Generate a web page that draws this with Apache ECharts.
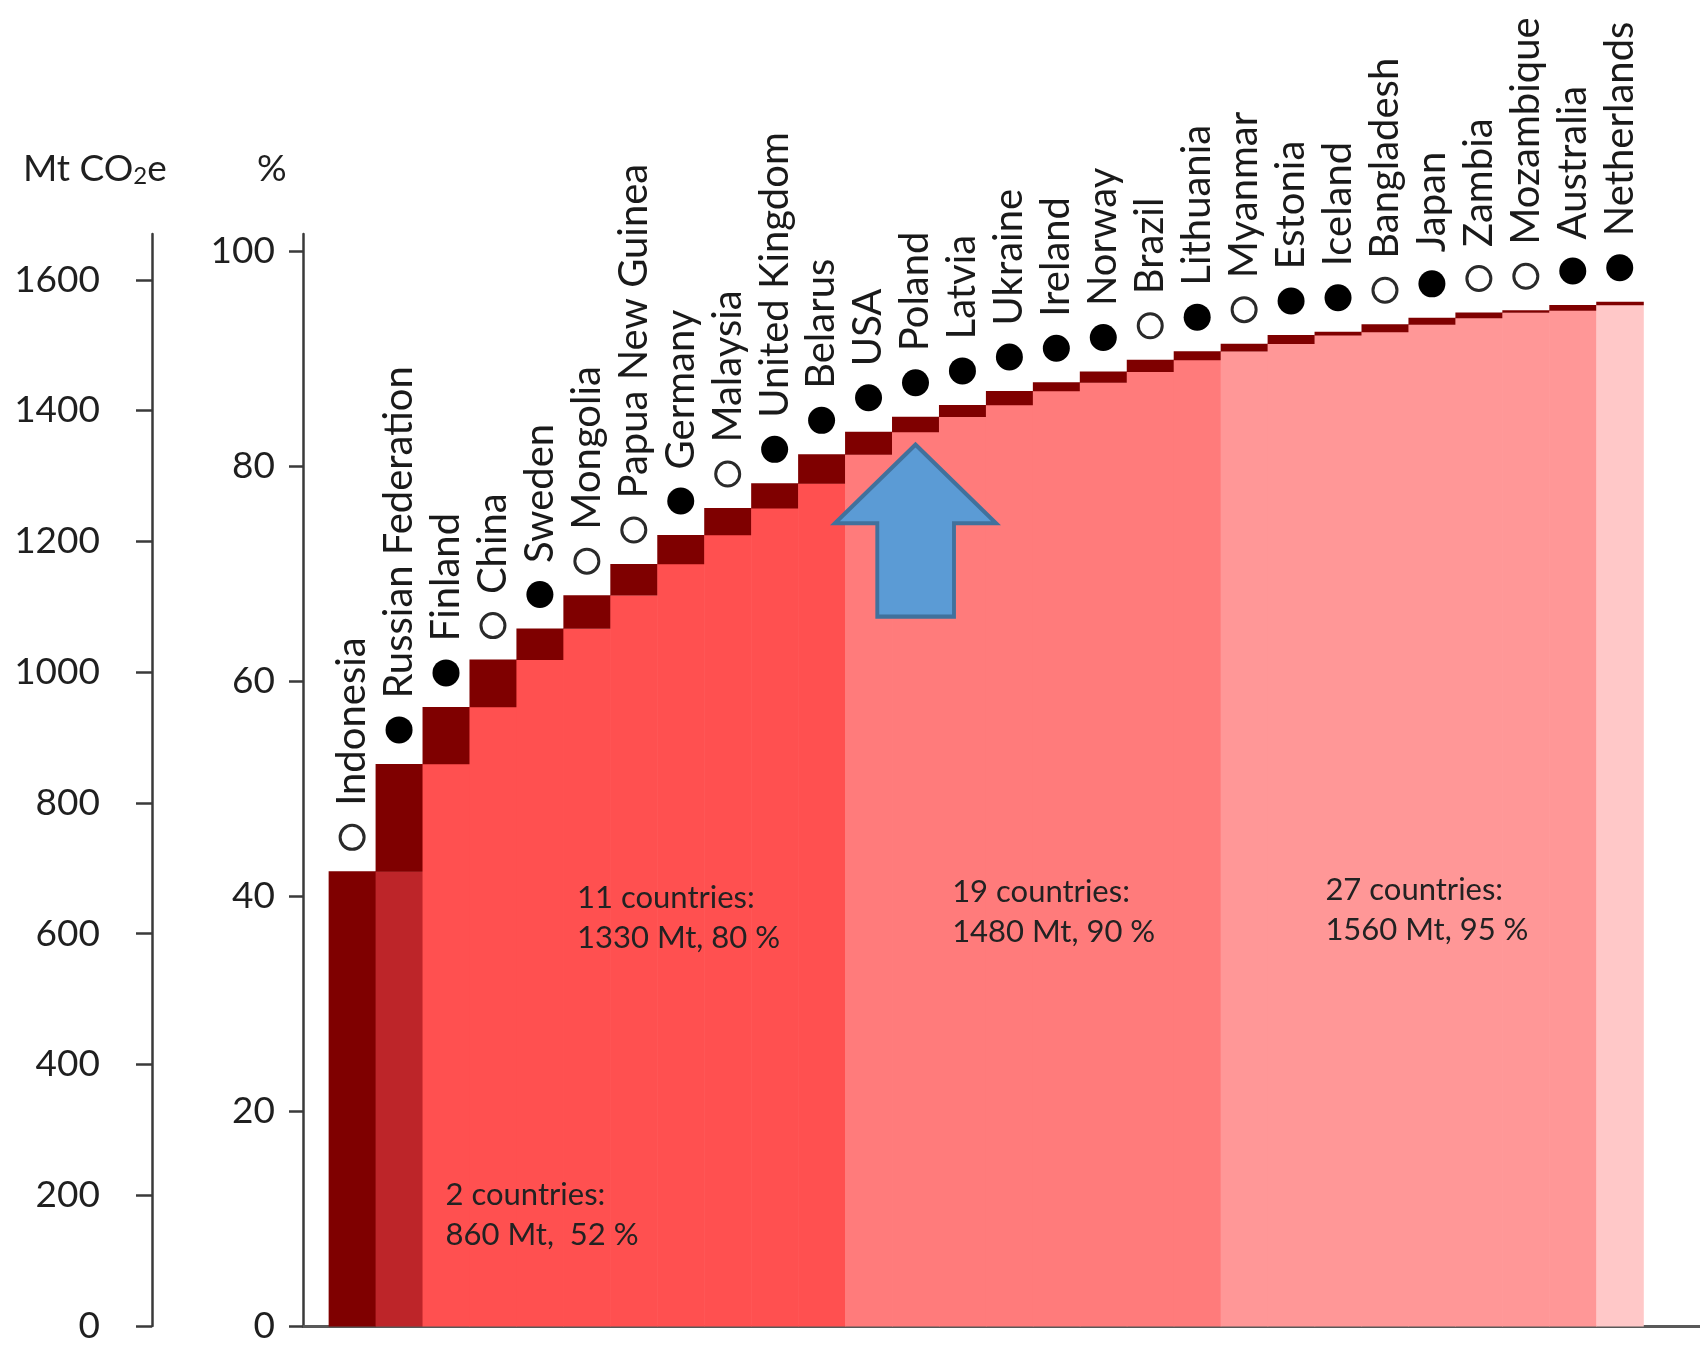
<!DOCTYPE html>
<html>
<head>
<meta charset="utf-8">
<script src="https://cdn.jsdelivr.net/npm/echarts@6.0.0/dist/echarts.min.js"></script>
<style>
  html, body { margin: 0; padding: 0; background: #ffffff; }
  #chart { width: 1700px; height: 1347px; }
</style>
</head>
<body>
<div id="chart"></div>
<script>
// ---------------- DATA ----------------
const countries = [
  'Indonesia', 'Russian Federation', 'Finland', 'China', 'Sweden', 'Mongolia',
  'Papua New Guinea', 'Germany', 'Malaysia', 'United Kingdom', 'Belarus', 'USA',
  'Poland', 'Latvia', 'Ukraine', 'Ireland', 'Norway', 'Brazil', 'Lithuania',
  'Myanmar', 'Estonia', 'Iceland', 'Bangladesh', 'Japan', 'Zambia', 'Mozambique',
  'Australia', 'Netherlands'
];
// cumulative share of the total (%)
const cumulativePct = [
  42.3, 52.3, 57.6, 62.0, 64.9, 68.0, 70.9, 73.6, 76.1, 78.4, 81.1, 83.2,
  84.6, 85.7, 87.0, 87.8, 88.8, 89.9, 90.7, 91.4, 92.2, 92.5, 93.2, 93.8,
  94.3, 94.5, 95.0, 95.3
];
// marker kind above each column
const markerType = [
  'open', 'filled', 'filled', 'open', 'filled', 'open', 'open', 'filled',
  'open', 'filled', 'filled', 'filled', 'filled', 'filled', 'filled', 'filled',
  'filled', 'open', 'filled', 'open', 'filled', 'filled', 'open', 'filled',
  'open', 'open', 'filled', 'filled'
];
// country counts closing each shaded group
const groupCounts = [2, 11, 19, 27];
const groupTexts = [
  '2 countries:\n860 Mt,  52 %',
  '11 countries:\n1330 Mt, 80 %',
  '19 countries:\n1480 Mt, 90 %',
  '27 countries:\n1560 Mt, 95 %'
];
const pctTicks = [0, 20, 40, 60, 80, 100];
const mtTicks = [0, 200, 400, 600, 800, 1000, 1200, 1400, 1600];

// ---------------- STYLE ----------------
const FONT = 'Lato';
const TEXT = '#1f1f1f';
const AXIS = '#3a3a3a';
const INCREMENT_COLOR = '#7F0000';
const bandColors = ['#BD2529', '#FF5050', '#FF7B7B', '#FF9797', '#FFC8C8'];
// where the annotation texts sit (x in column units, y in %)
const groupTextPos = [[1.98, 10.3], [4.78, 38.0], [12.77, 38.5], [20.72, 38.7]];

function bandColor(i) {
  let b = 0;
  groupCounts.forEach(function (g) { if (i >= g) b++; });
  return bandColors[b];
}

const columnData = countries.map(function (c, i) {
  return [i, i === 0 ? 0 : cumulativePct[i - 1], cumulativePct[i]];
});

function renderColumn(params, api) {
  const i = api.value(0), prev = api.value(1), cum = api.value(2);
  const left = api.coord([i - 0.5, 0])[0];
  const right = api.coord([i + 0.5, 0])[0];
  const y0 = api.coord([i, 0])[1];
  const yPrev = api.coord([i, prev])[1];
  const yCum = api.coord([i, cum])[1];
  const w = right - left + 0.6;
  const children = [];
  if (prev > 0) {
    children.push({ type: 'rect', shape: { x: left, y: yPrev, width: w, height: y0 - yPrev + 0.4 },
      style: { fill: bandColor(i) } });
  }
  children.push({ type: 'rect', shape: { x: left, y: yCum, width: w, height: yPrev - yCum + 0.4 },
    style: { fill: INCREMENT_COLOR } });
  return { type: 'group', children: children };
}

const markerData = countries.map(function (c, i) {
  const open = markerType[i] === 'open';
  return {
    name: c,
    value: [i, cumulativePct[i]],
    symbolSize: open ? 24 : 27,
    itemStyle: open ? { color: '#ffffff', borderColor: '#2a2a2a', borderWidth: 3, opacity: 1 }
                    : { color: '#000000', borderWidth: 0, opacity: 1 }
  };
});

const annotationPoints = groupTexts.map(function (t, k) {
  return {
    coord: groupTextPos[k],
    symbol: 'circle',
    symbolSize: 1,
    itemStyle: { color: 'rgba(0,0,0,0)' },
    label: {
      show: true, position: 'right', distance: 0, formatter: t,
      align: 'left', verticalAlign: 'middle',
      fontFamily: FONT, fontSize: 31, lineHeight: 40, color: '#222222'
    }
  };
});
annotationPoints.push({
  coord: [12, 74.0],
  symbol: 'path://M80.5,0 L161,78.6 L119,78.6 L119,172 L42.3,172 L42.3,78.6 L0,78.6 Z',
  symbolSize: [161, 172],
  itemStyle: { color: '#5B9BD5', borderColor: '#41719C', borderWidth: 4, opacity: 1 },
  label: { show: false }
});

function plain(v) { return String(v); }

const chart = echarts.init(document.getElementById('chart'), null, { renderer: 'canvas' });
chart.setOption({
  animation: false,
  backgroundColor: '#ffffff',
  title: [
    { text: '{a|Mt CO}{s|2}{a|e}', left: 18, top: 146,
      textStyle: { fontWeight: 'normal', rich: {
        a: { fontFamily: FONT, fontSize: 37, fontWeight: 'normal', color: TEXT, verticalAlign: 'bottom' },
        s: { fontFamily: FONT, fontSize: 24, fontWeight: 'normal', color: TEXT, verticalAlign: 'bottom' }
      } } },
    { text: '%', left: 252, top: 146,
      textStyle: { fontFamily: FONT, fontSize: 37, fontWeight: 'normal', color: TEXT } }
  ],
  grid: { left: 303, right: 0, top: 234, bottom: 21, containLabel: false },
  xAxis: {
    type: 'value', min: -1.046, max: 28.71,
    axisLine: { show: true, onZero: true, lineStyle: { color: '#595959', width: 3 } },
    axisTick: { show: false }, axisLabel: { show: false }, splitLine: { show: false }
  },
  yAxis: [
    {
      type: 'value', min: 0, max: 101.6, position: 'left', offset: 0,
      axisLine: { show: true, onZero: false, lineStyle: { color: AXIS, width: 2.5 } },
      axisTick: { show: true, length: 14, customValues: pctTicks, lineStyle: { color: AXIS, width: 2.5 } },
      axisLabel: { show: true, customValues: pctTicks, formatter: plain, margin: 28, fontFamily: FONT,
        fontSize: 37, color: TEXT, padding: [10, 0, 0, 0] },
      splitLine: { show: false }
    },
    {
      type: 'value', min: 0, max: 1670, position: 'left', offset: 151,
      axisLine: { show: true, onZero: false, lineStyle: { color: AXIS, width: 2.5 } },
      axisTick: { show: true, length: 16, customValues: mtTicks, lineStyle: { color: AXIS, width: 2.5 } },
      axisLabel: { show: true, customValues: mtTicks, formatter: plain, margin: 52, fontFamily: FONT,
        fontSize: 37, color: TEXT, padding: [10, 0, 0, 0] },
      splitLine: { show: false }
    }
  ],
  series: [
    {
      type: 'custom', name: 'columns', xAxisIndex: 0, yAxisIndex: 0,
      renderItem: renderColumn, data: columnData,
      encode: { x: 0, y: [1, 2] }, clip: false, z: 2
    },
    {
      type: 'scatter', name: 'countries', xAxisIndex: 0, yAxisIndex: 0,
      data: markerData, symbol: 'circle', symbolOffset: [0, -34], z: 4,
      itemStyle: { opacity: 1 },
      label: {
        show: true, formatter: '{b}', position: 'top', distance: 18, rotate: 90,
        align: 'left', verticalAlign: 'middle',
        fontFamily: FONT, fontSize: 40, color: '#1a1a1a'
      },
      markPoint: { data: annotationPoints, z: 5 }
    }
  ]
});
</script>
</body>
</html>
